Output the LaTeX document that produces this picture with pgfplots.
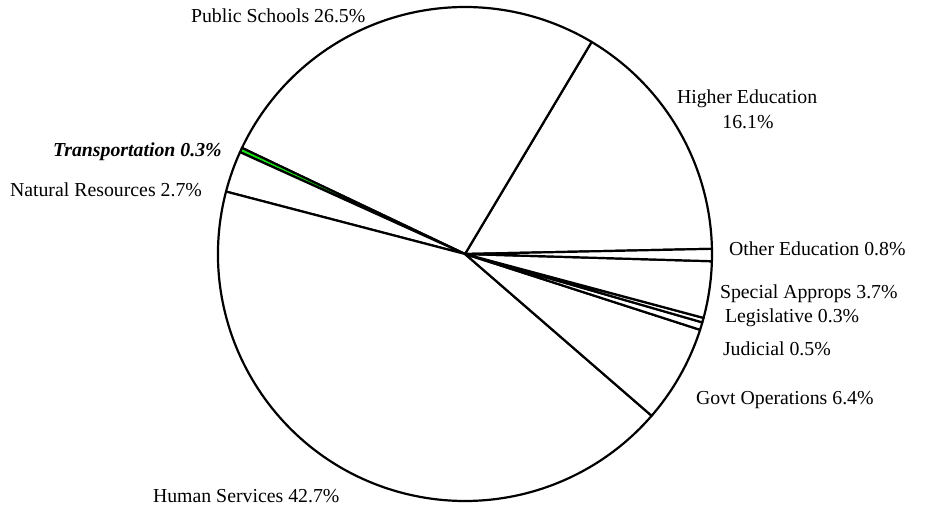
\documentclass[border=0pt]{standalone}
\usepackage{fontspec}
\setmainfont{Liberation Serif}
\usepackage{pgfplots}
\usepackage{pgfplotstable}
\pgfplotsset{compat=1.18}
\definecolor{transgreen}{RGB}{20,230,20}
\tikzset{lbl/.style={font=\fontsize{19.8}{24}\selectfont,inner sep=0pt,outer sep=0pt}}

\pgfplotstableread[col sep=comma]{
name,value,fc
Higher Education,16.1,white
Public Schools,26.5,white
Transportation,0.3,transgreen
Natural Resources,2.7,white
Human Services,42.7,white
Govt Operations,6.4,white
Judicial,0.5,white
Legislative,0.3,white
Special Approps,3.7,white
Other Education,0.8,white
}\piedata

\begin{document}
\begin{tikzpicture}
\begin{axis}[name=ax,width=925pt,height=508pt,scale only axis,
  xmin=0,xmax=925,ymin=0,ymax=508,hide axis,clip=false]
\path (rel axis cs:0,0) rectangle (rel axis cs:1,1);
\pgfplotsextra{
  \gdef\cum{1.2}
  \pgfplotsforeachungrouped \i in {0,...,9}{
    \pgfplotstablegetelem{\i}{value}\of\piedata
    \let\val\pgfplotsretval
    \pgfplotstablegetelem{\i}{fc}\of\piedata
    \let\fc\pgfplotsretval
    \pgfmathsetmacro\nxt{\cum+3.6*\val}
    \filldraw[fill=\fc,draw=black,line width=2.2pt,line join=round]
      (axis cs:465,254) -- ++(\cum:247pt)
      arc[start angle=\cum,end angle=\nxt,radius=247pt] -- cycle;
    \global\let\cum\nxt
  }
}
\node[lbl,anchor=base west] at (axis cs:191,485) {Public Schools 26.5\%};
\node[lbl,anchor=base west] at (axis cs:677,404) {Higher Education};
\node[lbl,anchor=base] at (axis cs:748,379) {16.1\%};
\node[lbl,anchor=base west] at (axis cs:729,252) {Other Education 0.8\%};
\node[lbl,anchor=base west] at (axis cs:720,209) {Special Approps 3.7\%};
\node[lbl,anchor=base west] at (axis cs:725,185) {Legislative 0.3\%};
\node[lbl,anchor=base west] at (axis cs:723,152) {Judicial 0.5\%};
\node[lbl,anchor=base west] at (axis cs:696,103) {Govt Operations 6.4\%};
\node[lbl,anchor=base west] at (axis cs:153,6) {Human Services 42.7\%};
\node[lbl,anchor=base west] at (axis cs:53,351) {\textbf{\textit{Transportation 0.3\%}}};
\node[lbl,anchor=base west] at (axis cs:10,311) {Natural Resources 2.7\%};
\end{axis}
\pgfresetboundingbox
\path (ax.south west) rectangle (ax.north east);
\end{tikzpicture}
\end{document}
